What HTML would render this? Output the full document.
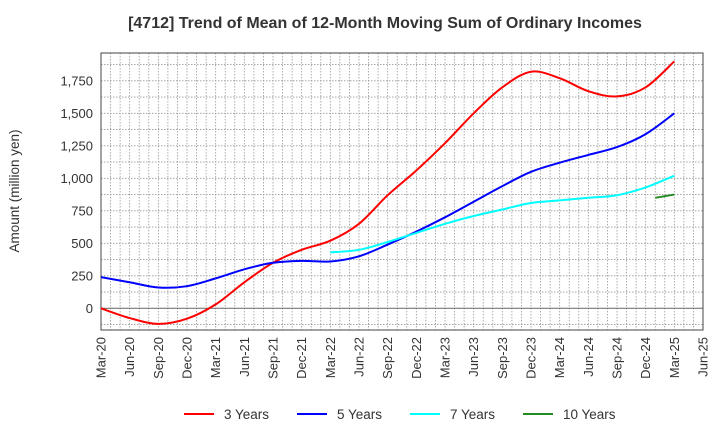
<!DOCTYPE html>
<html><head><meta charset="utf-8"><style>
body{margin:0;background:#fff;}
svg text{font-family:"Liberation Sans",sans-serif;fill:#333;}
</style></head><body>
<svg id="chart" width="720" height="440" xmlns="http://www.w3.org/2000/svg">
<text x="385" y="28" text-anchor="middle" font-size="16" font-weight="bold">[4712]  Trend of Mean of 12-Month Moving Sum of Ordinary Incomes</text>
<text transform="translate(19,191) rotate(-90)" text-anchor="middle" font-size="13.5">Amount (million yen)</text>
<g id="grid"></g><g id="axes"></g><g id="series"></g>
<g>
<line x1="184" y1="414" x2="214" y2="414" stroke="#ff0000" stroke-width="2"/>
<text x="224" y="419" font-size="13.5">3 Years</text>
<line x1="297" y1="414" x2="327" y2="414" stroke="#0000ff" stroke-width="2"/>
<text x="337" y="419" font-size="13.5">5 Years</text>
<line x1="410" y1="414" x2="440" y2="414" stroke="#00ffff" stroke-width="2"/>
<text x="450" y="419" font-size="13.5">7 Years</text>
<line x1="523" y1="414" x2="553" y2="414" stroke="#228b22" stroke-width="2"/>
<text x="563" y="419" font-size="13.5">10 Years</text>
</g>
</svg>
<script>
const xLabels=["Mar-20","Jun-20","Sep-20","Dec-20","Mar-21","Jun-21","Sep-21","Dec-21","Mar-22","Jun-22","Sep-22","Dec-22","Mar-23","Jun-23","Sep-23","Dec-23","Mar-24","Jun-24","Sep-24","Dec-24","Mar-25","Jun-25"];
const yTicks=[0,250,500,750,1000,1250,1500,1750];
const yTickLabels=["0","250","500","750","1,000","1,250","1,500","1,750"];
const s3=[0,-75,-120,-80,30,200,350,450,520,650,870,1060,1270,1500,1700,1820,1770,1670,1630,1700,1900];
const s5=[240,200,160,170,230,300,350,365,360,400,490,590,700,820,940,1050,1120,1180,1240,1340,1500];
const s7start=8;
const s7=[430,450,510,580,650,710,760,810,830,850,870,930,1020];
const s10months=[58,60];
const s10=[850,875];
const L=101,R=703,T=53,B=330,yMin=-167,yMax=1964,nQ=21;
const NS="http://www.w3.org/2000/svg";
function X(month){return L+(R-L)*month/(nQ*3);}
function Y(v){return B-(v-yMin)/(yMax-yMin)*(B-T);}
function mk(tag,attrs,parent){const e=document.createElementNS(NS,tag);for(const k in attrs)e.setAttribute(k,attrs[k]);parent.appendChild(e);return e;}
const grid=document.getElementById('grid'),axes=document.getElementById('axes'),ser=document.getElementById('series');
for(let m=1;m<nQ*3;m++){const g=mk('line',{x1:X(m),x2:X(m),y1:T,y2:B,stroke:'#999','stroke-width':0.8,'stroke-dasharray':'1.5,1.5'},grid);

}
for(let v=-125;v<yMax;v+=125){if(v===0)continue;const g=mk('line',{x1:L,x2:R,y1:Y(v),y2:Y(v),stroke:'#999','stroke-width':0.8,'stroke-dasharray':'1.5,1.5'},grid);

}
const z=mk('line',{x1:L,x2:R,y1:Y(0),y2:Y(0),stroke:'#666','stroke-width':1},axes);


const fr=mk('rect',{x:L,y:T,width:R-L,height:B-T,fill:'none',stroke:'#444','stroke-width':1},axes);


yTicks.forEach((v,i)=>{const t=mk('text',{x:L-8,y:Y(v)+4.5,'text-anchor':'end','font-size':13},axes);t.textContent=yTickLabels[i];

});
xLabels.forEach((lab,i)=>{const x=X(i*3);const t=mk('text',{transform:`translate(${x+4.5},${B+7}) rotate(-90)`,'text-anchor':'end','font-size':13},axes);t.textContent=lab;

});
function path(pts){if(pts.length<3)return 'M'+pts.map(p=>p.join(',')).join('L');let d='M'+pts[0][0]+','+pts[0][1];
for(let i=0;i<pts.length-1;i++){const p0=pts[Math.max(0,i-1)],p1=pts[i],p2=pts[i+1],p3=pts[Math.min(pts.length-1,i+2)];
d+=`C${p1[0]+(p2[0]-p0[0])/6},${p1[1]+(p2[1]-p0[1])/6} ${p2[0]-(p3[0]-p1[0])/6},${p2[1]-(p3[1]-p1[1])/6} ${p2[0]},${p2[1]}`;}return d;}
function draw(months,vals,color,name){const pts=vals.map((v,i)=>[X(months[i]),Y(v)]);const p=mk('path',{d:path(pts),fill:'none',stroke:color,'stroke-width':2},ser);

}
draw(s3.map((_,i)=>i*3),s3,'#ff0000','series-3-years');
draw(s5.map((_,i)=>i*3),s5,'#0000ff','series-5-years');
draw(s7.map((_,i)=>(i+s7start)*3),s7,'#00ffff','series-7-years');
draw(s10months,s10,'#228b22','series-10-years');
</script>
</body></html>
